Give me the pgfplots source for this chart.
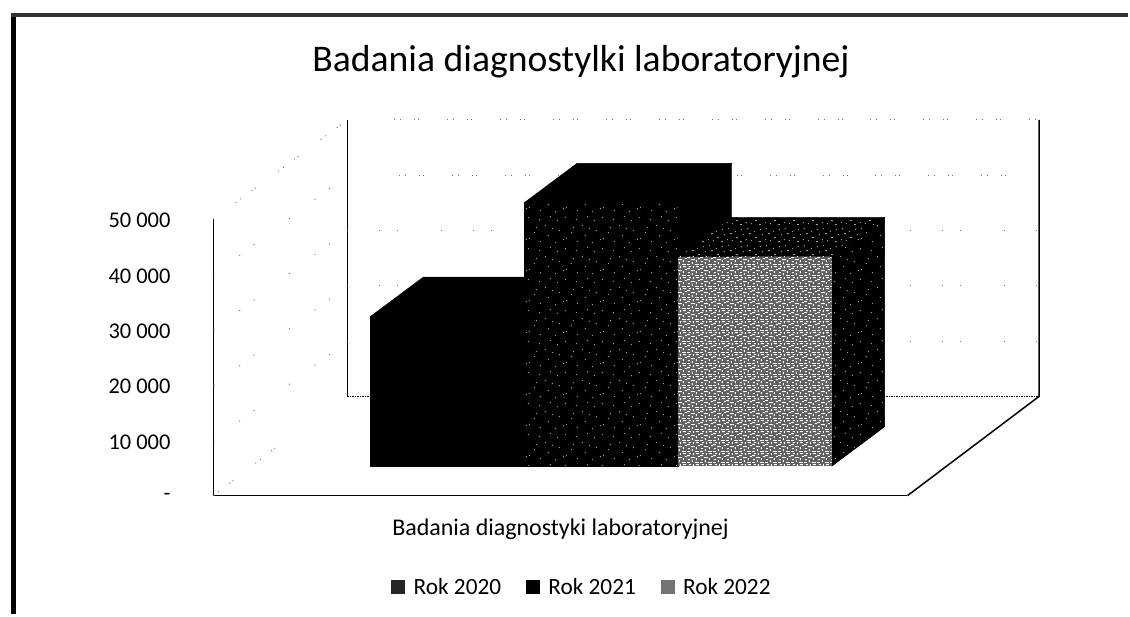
\documentclass[border=0pt]{standalone}
\usepackage{fontspec}
\setmainfont{Carlito}
\usepackage{pgfplots}
\pgfplotsset{compat=1.18}
\usetikzlibrary{patterns}

\definecolor{framegray}{gray}{0.2}
\definecolor{gridgray}{gray}{0.45}
\definecolor{speck}{gray}{0.6}

% scan noise on the dark faces
\pgfdeclarepatternformonly{sparsedots}{\pgfpointorigin}{\pgfqpoint{37pt}{31pt}}{\pgfqpoint{37pt}{31pt}}{
  \pgfpathrectangle{\pgfqpoint{1pt}{2pt}}{\pgfqpoint{1pt}{1pt}}
  \pgfpathrectangle{\pgfqpoint{9pt}{5pt}}{\pgfqpoint{1pt}{1pt}}
  \pgfpathrectangle{\pgfqpoint{12pt}{6pt}}{\pgfqpoint{1pt}{1pt}}
  \pgfpathrectangle{\pgfqpoint{23pt}{3pt}}{\pgfqpoint{1pt}{1pt}}
  \pgfpathrectangle{\pgfqpoint{31pt}{9pt}}{\pgfqpoint{1pt}{1pt}}
  \pgfpathrectangle{\pgfqpoint{5pt}{14pt}}{\pgfqpoint{1pt}{1pt}}
  \pgfpathrectangle{\pgfqpoint{17pt}{12pt}}{\pgfqpoint{1pt}{1pt}}
  \pgfpathrectangle{\pgfqpoint{19pt}{17pt}}{\pgfqpoint{1pt}{1pt}}
  \pgfpathrectangle{\pgfqpoint{28pt}{19pt}}{\pgfqpoint{1pt}{1pt}}
  \pgfpathrectangle{\pgfqpoint{35pt}{16pt}}{\pgfqpoint{1pt}{1pt}}
  \pgfpathrectangle{\pgfqpoint{3pt}{24pt}}{\pgfqpoint{1pt}{1pt}}
  \pgfpathrectangle{\pgfqpoint{11pt}{27pt}}{\pgfqpoint{1pt}{1pt}}
  \pgfpathrectangle{\pgfqpoint{22pt}{25pt}}{\pgfqpoint{1pt}{1pt}}
  \pgfpathrectangle{\pgfqpoint{33pt}{28pt}}{\pgfqpoint{1pt}{1pt}}
  \pgfusepath{fill}
}
\pgfdeclarepatternformonly{mediumdots}{\pgfpointorigin}{\pgfqpoint{19pt}{17pt}}{\pgfqpoint{19pt}{17pt}}{
  \pgfpathrectangle{\pgfqpoint{1pt}{1pt}}{\pgfqpoint{2pt}{1pt}}
  \pgfpathrectangle{\pgfqpoint{7pt}{3pt}}{\pgfqpoint{1pt}{1pt}}
  \pgfpathrectangle{\pgfqpoint{12pt}{2pt}}{\pgfqpoint{1pt}{1pt}}
  \pgfpathrectangle{\pgfqpoint{16pt}{5pt}}{\pgfqpoint{2pt}{1pt}}
  \pgfpathrectangle{\pgfqpoint{4pt}{8pt}}{\pgfqpoint{1pt}{1pt}}
  \pgfpathrectangle{\pgfqpoint{10pt}{9pt}}{\pgfqpoint{2pt}{1pt}}
  \pgfpathrectangle{\pgfqpoint{15pt}{11pt}}{\pgfqpoint{1pt}{1pt}}
  \pgfpathrectangle{\pgfqpoint{2pt}{13pt}}{\pgfqpoint{1pt}{1pt}}
  \pgfpathrectangle{\pgfqpoint{8pt}{14pt}}{\pgfqpoint{1pt}{1pt}}
  \pgfusepath{fill}
}
\pgfdeclarepatternformonly{densedots}{\pgfpointorigin}{\pgfqpoint{13pt}{11pt}}{\pgfqpoint{13pt}{11pt}}{
  \pgfpathrectangle{\pgfqpoint{0pt}{0pt}}{\pgfqpoint{3pt}{1pt}}
  \pgfpathrectangle{\pgfqpoint{5pt}{1pt}}{\pgfqpoint{1pt}{2pt}}
  \pgfpathrectangle{\pgfqpoint{8pt}{0pt}}{\pgfqpoint{4pt}{1pt}}
  \pgfpathrectangle{\pgfqpoint{1pt}{3pt}}{\pgfqpoint{2pt}{1pt}}
  \pgfpathrectangle{\pgfqpoint{9pt}{3pt}}{\pgfqpoint{1pt}{2pt}}
  \pgfpathrectangle{\pgfqpoint{4pt}{5pt}}{\pgfqpoint{4pt}{1pt}}
  \pgfpathrectangle{\pgfqpoint{11pt}{6pt}}{\pgfqpoint{2pt}{1pt}}
  \pgfpathrectangle{\pgfqpoint{0pt}{7pt}}{\pgfqpoint{3pt}{1pt}}
  \pgfpathrectangle{\pgfqpoint{6pt}{8pt}}{\pgfqpoint{1pt}{2pt}}
  \pgfpathrectangle{\pgfqpoint{9pt}{9pt}}{\pgfqpoint{3pt}{1pt}}
  \pgfpathrectangle{\pgfqpoint{2pt}{9pt}}{\pgfqpoint{2pt}{1pt}}
  \pgfusepath{fill}
}

\pgfplotsset{
  faint/.style={gridgray, line width=0.9pt, forget plot},
  sparse/.style={dash pattern=on 1pt off 5pt on 1pt off 13pt on 1pt off 3pt on 1pt off 28pt},
  rare/.style={dash pattern=on 1pt off 31pt on 1pt off 17pt on 1pt off 43pt},
  face/.style={fill=black, draw=black, line width=0.4pt, forget plot},
}

\begin{document}
\begin{tikzpicture}
\begin{axis}[
scale only axis,
width=695pt, height=276.9pt,
xmin=214, xmax=909,
ymin=0, ymax=50000,
clip=false,
scaled y ticks=false,
axis x line*=bottom,
axis y line*=left,
axis line style={black, line width=1.3pt, -},
xtick=\empty,
ytick={0,10000,20000,30000,40000,50000},
yticklabels={-,10 000,20 000,30 000,40 000,50 000},
major tick length=0pt,
tick label style={font=\fontsize{22.5}{26}\selectfont, inner sep=0pt},
yticklabel style={xshift=-43pt, yshift=-1.5pt},
xlabel={Badania diagnostyki laboratoryjnej},
xlabel style={font=\fontsize{24}{28}\selectfont, at={(axis description cs:0.5,-0.12)}, anchor=center},
title={Badania diagnostylki laboratoryjnej},
title style={font=\fontsize{37.7}{44}\selectfont, at={(axis description cs:0.5295,1.548)}, anchor=center},
legend columns=3,
legend cell align=left,
legend style={draw=none, fill=none, font=\fontsize{23.3}{27}\selectfont,
  at={(axis cs:583,-16500)}, anchor=center,
  /tikz/every even column/.append style={column sep=23pt}},
]
% page extent
\addplot[draw=none, forget plot] coordinates {(0,-21401)(1130,89668)};
% frame of the scan
\addplot[black, line width=4.5pt, forget plot] coordinates {(13.5,-21401)(13.5,87000)};
\addplot[framegray, line width=4pt, forget plot] coordinates {(11,87000)(1130,87000)};
% back wall and floor
\addplot[black, line width=1.5pt, forget plot] coordinates {(348,67970)(348,17970)};
\addplot[black, line width=1.5pt, forget plot] coordinates {(1041,67970)(1041,17970)(909,0)};
\addplot[black, line width=1pt, dash pattern=on 1.5pt off 1pt, forget plot] coordinates {(348,17970)(1041,17970)};
\addplot[faint, sparse] coordinates {(395,67970)(1041,67970)};
\addplot[faint, sparse] coordinates {(400,57970)(1035,57970)};
\addplot[faint, rare] coordinates {(348,47970)(1041,47970)};
\addplot[faint, rare] coordinates {(348,37970)(1041,37970)};
\addplot[faint, rare] coordinates {(348,27970)(1041,27970)};
% side wall
\addplot[faint, sparse] coordinates {(236,53000)(348,67970)};
\addplot[faint, rare] coordinates {(214,40000)(348,57970)};
\addplot[faint, rare] coordinates {(214,30000)(348,47970)};
\addplot[faint, rare] coordinates {(214,20000)(348,37970)};
\addplot[faint, rare] coordinates {(214,10000)(348,27970)};
\addplot[faint, sparse] coordinates {(214,0)(296,11500)};
% Rok 2020
\addplot[face] coordinates {(371,32404)(424,39538)(578,39538)(525,32404)} --cycle;
\addplot[face] coordinates {(371,5328)(371,32404)(525,32404)(525,5328)} --cycle;
% Rok 2021
\addplot[face] coordinates {(525,52978)(578,60112)(733,60112)(679,52978)} --cycle;
\addplot[face, postaction={pattern=sparsedots, pattern color=speck}] coordinates {(525,5328)(525,52978)(679,52978)(679,5328)} --cycle;
\addplot[face] coordinates {(679,5328)(733,12462)(733,60112)(679,52978)} --cycle;
% Rok 2022
\addplot[face, postaction={pattern=mediumdots, pattern color=speck}] coordinates {(679,43228)(733,50362)(886,50362)(833,43228)} --cycle;
\addplot[face, postaction={pattern=sparsedots, pattern color=speck}] coordinates {(833,5328)(886,12462)(886,50362)(833,43228)} --cycle;
\addplot[fill=gray!75!black, draw=none, postaction={pattern=densedots, pattern color=white}, forget plot] coordinates {(679,5328)(679,43228)(833,43228)(833,5328)} --cycle;
\addlegendimage{legend image code/.code={\fill[black!85] (0pt,-6.5pt) rectangle (13pt,6.5pt); \path (20pt,0pt);}}
\addlegendentry{Rok 2020}
\addlegendimage{legend image code/.code={\fill[black] (0pt,-6.5pt) rectangle (13pt,6.5pt); \path (20pt,0pt);}}
\addlegendentry{Rok 2021}
\addlegendimage{legend image code/.code={\fill[black!55] (0pt,-6.5pt) rectangle (13pt,6.5pt); \path (20pt,0pt);}}
\addlegendentry{Rok 2022}
\end{axis}
\end{tikzpicture}
\end{document}
